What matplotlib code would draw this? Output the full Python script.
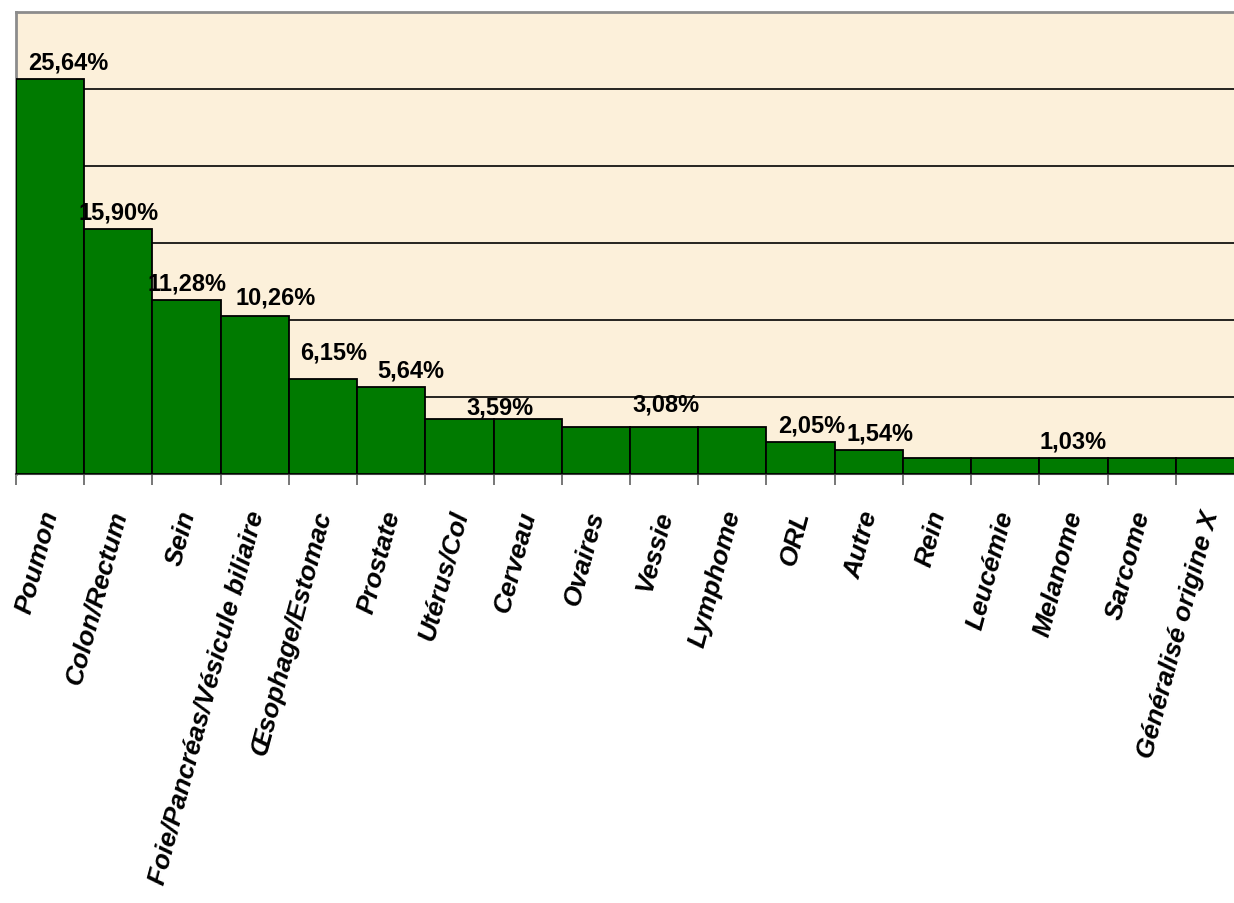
import matplotlib
matplotlib.use("Agg")
import matplotlib.pyplot as plt
import matplotlib.transforms as mtransforms
import numpy as np

# Données
categories = ['Poumon', 'Colon/Rectum', 'Sein', 'Foie/Pancréas/Vésicule biliaire',
              'Œsophage/Estomac', 'Prostate', 'Utérus/Col', 'Cerveau', 'Ovaires',
              'Vessie', 'Lymphome', 'ORL', 'Autre', 'Rein', 'Leucémie', 'Melanome',
              'Sarcome', 'Généralisé origine X']
values = [25.64, 15.90, 11.28, 10.26, 6.15, 5.64, 3.59, 3.59, 3.08,
          3.08, 3.08, 2.05, 1.54, 1.03, 1.03, 1.03, 1.03, 1.03]

# étiquettes affichées (indice de la barre)
label_idx = [0, 1, 2, 3, 4, 5, 6, 9, 11, 12, 15]
label_shift = [0.26, 0.0, 0.0, 0.3, 0.15, 0.28, 0.6, 0.03, 0.16, 0.16, 0.0]
label_lift = [4, 4, 4, 5, 11, 4, 0, 8, 4, 4, 4]

plt.rcParams['font.family'] = ['Liberation Sans', 'DejaVu Sans']

fig = plt.figure(figsize=(12.34, 9.04), dpi=100)
ax = fig.add_axes([16 / 1234, 429 / 904, 1228 / 1234, 462.5 / 904])
ax.set_facecolor('#FCF0DA')

x = np.arange(len(categories))
ax.bar(x, values, width=1.0, color='#007A00', edgecolor='black', linewidth=1.3, zorder=3)

ax.set_xlim(-0.5, len(categories) - 0.5)
ax.set_ylim(0, 30)
ax.set_yticks(np.arange(5, 30, 5))
ax.tick_params(axis='y', length=0, labelleft=False)
ax.grid(axis='y', color='black', linewidth=1.2, zorder=1)

# graduations entre les catégories
ax.set_xticks(x)
ax.set_xticks(np.arange(-0.5, len(categories), 1.0), minor=True)
ax.tick_params(axis='x', which='major', length=0, pad=24)
ax.tick_params(axis='x', which='minor', length=8, width=1.2, color='#606060')
offset = mtransforms.ScaledTranslation(13 / 100, 0, fig.dpi_scale_trans)
ax.set_xticklabels(categories, rotation=75, ha='right', va='top',
                   fontsize=19, fontweight='bold', fontstyle='italic')
for lab in ax.get_xticklabels():
    lab.set_transform(lab.get_transform() + offset)

for s in ['top', 'left']:
    ax.spines[s].set_color('#8C8C8C')
    ax.spines[s].set_linewidth(2)
ax.spines['bottom'].set_color('#404040')
ax.spines['bottom'].set_linewidth(1.5)
ax.spines['right'].set_visible(False)

for i, dx, dy in zip(label_idx, label_shift, label_lift):
    txt = f"{values[i]:.2f}%".replace('.', ',')
    ax.annotate(txt, (i + dx, values[i]), xytext=(0, dy), textcoords='offset points',
                ha='center', va='bottom', fontsize=17, fontweight='bold', zorder=4)

fig.savefig('out.png', dpi=100)
